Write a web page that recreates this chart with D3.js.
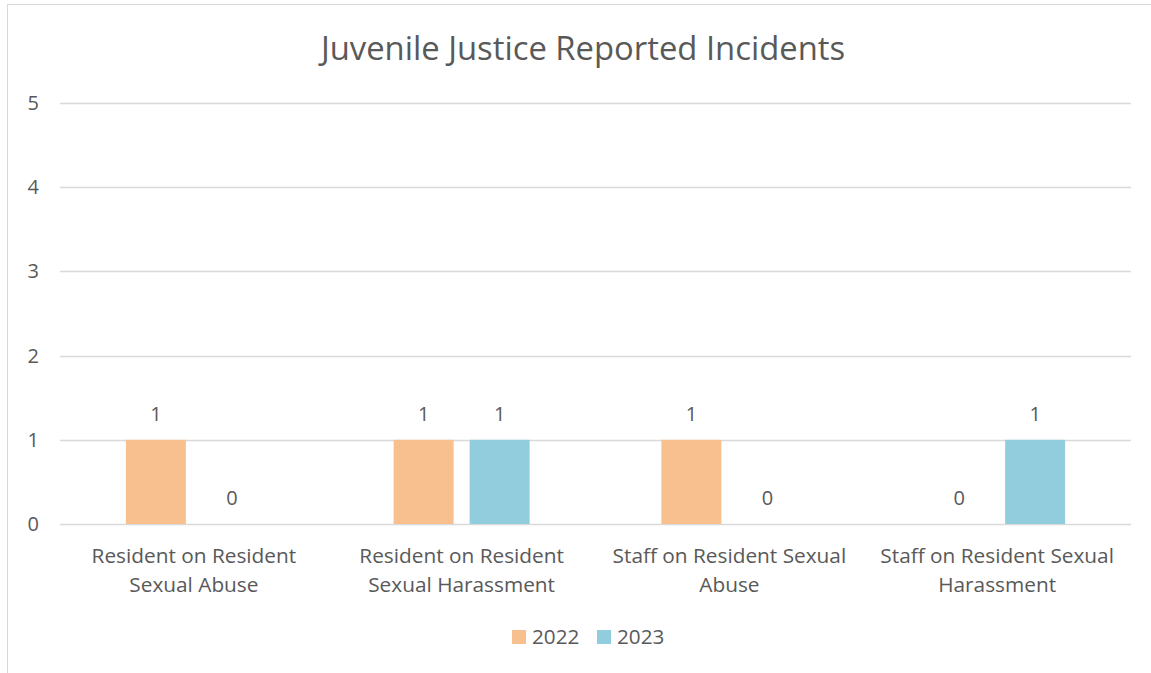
<!DOCTYPE html>
<html><head><meta charset="utf-8">
<script src="https://cdn.jsdelivr.net/npm/d3@7"></script>
<style>body{margin:0;background:#fff;}svg{display:block;font-family:"Open Sans",sans-serif;}</style>
</head><body>
<svg id="c" width="1151" height="673"></svg>
<script>
const categories = [["Resident on Resident","Sexual Abuse"],["Resident on Resident","Sexual Harassment"],["Staff on Resident Sexual","Abuse"],["Staff on Resident Sexual","Harassment"]];
const seriesNames = ["2022","2023"];
const values2022 = [1,1,1,0];
const values2023 = [0,1,0,1];
const yTicks = [0,1,2,3,4,5];
const colors = ["#F9C08F","#92CDDD"];
const title = "Juvenile Justice Reported Incidents";

const svg = d3.select("#c");
const textColor = "#595959";
svg.append("line").attr("x1",7.5).attr("x2",7.5).attr("y1",4).attr("y2",673).attr("stroke","#d9d9d9");
svg.append("line").attr("x1",7).attr("x2",1151).attr("y1",4.5).attr("y2",4.5).attr("stroke","#d9d9d9");

const x = d3.scaleBand().domain(d3.range(categories.length)).range([60,1131]);
const y = d3.scaleLinear().domain([0,5]).range([524,103]);
const x1 = d3.scaleBand().domain(seriesNames).range([0,136]).paddingInner(16/76);

svg.append("g").selectAll("line").data(yTicks).join("line")
  .attr("x1",60).attr("x2",1131).attr("y1",d=>Math.round(y(d))+0.5).attr("y2",d=>Math.round(y(d))+0.5)
  .attr("stroke","#d9d9d9").attr("stroke-width",1.5);
svg.append("g").selectAll("text").data(yTicks).join("text")
  .attr("x",39).attr("y",d=>y(d)).attr("dy","0.35em").attr("text-anchor","end")
  .attr("fill",textColor).attr("font-size",20).text(d=>d);

const data = categories.map((c,i)=>({i, vals:[values2022[i],values2023[i]]}));
const g = svg.append("g").selectAll("g").data(data).join("g")
  .attr("transform",d=>`translate(${x(d.i)+x.bandwidth()/2-68},0)`);
g.selectAll("rect").data(d=>d.vals.map((v,k)=>({v,k}))).join("rect")
  .attr("x",d=>x1(seriesNames[d.k])).attr("width",x1.bandwidth())
  .attr("y",d=>y(d.v)).attr("height",d=>y(0)-y(d.v)).attr("fill",d=>colors[d.k]);
g.selectAll("text.lbl").data(d=>d.vals.map((v,k)=>({v,k}))).join("text").attr("class","lbl")
  .attr("x",d=>x1(seriesNames[d.k])+x1.bandwidth()/2).attr("y",d=>y(d.v)-26).attr("dy","0.35em")
  .attr("text-anchor","middle").attr("fill",textColor).attr("font-size",20).text(d=>d.v);

const cl = svg.append("g").selectAll("text").data(categories).join("text")
  .attr("x",(d,i)=>x(i)+x.bandwidth()/2).attr("text-anchor","middle").attr("fill",textColor).attr("font-size",20.8);
cl.selectAll("tspan").data(d=>d).join("tspan")
  .attr("x",function(){return this.parentNode.getAttribute("x");})
  .attr("y",(d,k)=>563+k*29).text(d=>d);

svg.append("text").attr("x",583).attr("y",60).attr("text-anchor","middle").attr("fill",textColor)
  .attr("font-size",32.8).text(title);

const lg = svg.append("g").selectAll("g").data(seriesNames).join("g")
  .attr("transform",(d,i)=>`translate(${512+i*85},630)`);
lg.append("rect").attr("width",14).attr("height",14).attr("fill",(d,i)=>colors[i]);
lg.append("text").attr("x",20).attr("y",7).attr("dy","0.35em").attr("fill",textColor).attr("font-size",20.7).text(d=>d);
</script>
</body></html>
